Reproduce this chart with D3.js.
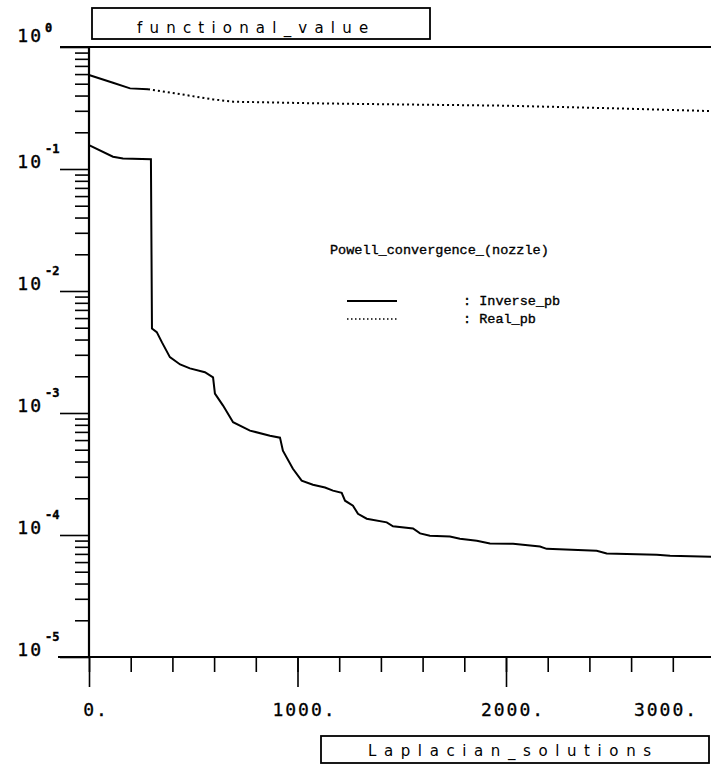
<!DOCTYPE html>
<html>
<head>
<meta charset="utf-8">
<script src="https://cdn.jsdelivr.net/npm/d3@7"></script>
<style>
  body { margin: 0; background: #fff; }
  svg { display: block; }
  .tick line { stroke: #000; stroke-width: 1.6; }
</style>
</head>
<body>
<div id="chart"></div>
<script>
// Laplacian solutions (x) vs functional value (y)
var inverseX = [0, 115, 163, 297, 302, 325, 350, 388, 437, 484, 556, 595, 604, 643, 691, 772, 868, 916, 930, 978,
  1020, 1074, 1132, 1170, 1212, 1228, 1266, 1290, 1332, 1428, 1458, 1554, 1588, 1635, 1731, 1779, 1860, 1923,
  2034, 2163, 2195, 2435, 2483, 2723, 2787, 2990];
var inverseY = [0.157, 0.126, 0.122, 0.12, 0.00493, 0.0046, 0.00379, 0.00287, 0.0025, 0.00232, 0.00216, 0.00196,
  0.00144, 0.00115, 8.4e-4, 7.17e-4, 6.52e-4, 6.28e-4, 4.91e-4, 3.49e-4, 2.79e-4, 2.58e-4, 2.45e-4, 2.31e-4,
  2.22e-4, 1.91e-4, 1.74e-4, 1.49e-4, 1.36e-4, 1.27e-4, 1.18e-4, 1.13e-4, 1.03e-4, 9.85e-5, 9.7e-5, 9.3e-5,
  8.96e-5, 8.51e-5, 8.47e-5, 8.05e-5, 7.7e-5, 7.42e-5, 7.05e-5, 6.88e-5, 6.75e-5, 6.62e-5];

var realX = [0, 115, 197, 283, 436, 595, 691, 1108, 1500, 1971, 2500, 2990];
var realY = [0.59, 0.509, 0.458, 0.45, 0.411, 0.372, 0.356, 0.345, 0.338, 0.331, 0.315, 0.298];
var realSolidUntil = 283;

var xMajor = [0, 1000, 2000, 3000];
var xMinor = d3.range(0, 3001, 200);
var xLabels = ["0.", "1000.", "2000.", "3000."];
var yMajor = [1, 1e-1, 1e-2, 1e-3, 1e-4, 1e-5];
var yExp = ["0", "-1", "-2", "-3", "-4", "-5"];

var width = 711, height = 770;

var x = d3.scaleLinear().domain([0, 3000]).range([89, 714.5]);
var y = d3.scaleLog().domain([1e-5, 1]).range([657, 47]);

var svg = d3.select("#chart").append("svg")
  .attr("width", width)
  .attr("height", height);

// minor log ticks 2..9 in every decade
var yMinor = [];
yMajor.slice(1).forEach(function (d) {
  d3.range(2, 10).forEach(function (k) { yMinor.push(d * k); });
});

svg.append("g")
  .attr("transform", "translate(89,0)")
  .call(d3.axisLeft(y).tickValues(yMinor).tickSize(14).tickFormat(""))
  .call(function (g) { g.select(".domain").remove(); });
svg.append("g")
  .attr("transform", "translate(89,0)")
  .call(d3.axisLeft(y).tickValues(yMajor).tickSize(29).tickFormat(""))
  .call(function (g) { g.select(".domain").remove(); });

svg.append("g")
  .attr("transform", "translate(0," + y(1e-5) + ")")
  .call(d3.axisBottom(x).tickValues(xMinor).tickSize(15).tickFormat(""))
  .call(function (g) { g.select(".domain").remove(); });
svg.append("g")
  .attr("transform", "translate(0," + y(1e-5) + ")")
  .call(d3.axisBottom(x).tickValues(xMajor).tickSize(30).tickFormat(""))
  .call(function (g) { g.select(".domain").remove(); });

// frame lines
svg.append("line")
  .attr("x1", 89).attr("x2", 89)
  .attr("y1", y(1)).attr("y2", y(1e-5))
  .attr("stroke", "#000").attr("stroke-width", 2.2);
svg.append("line")
  .attr("x1", 60).attr("x2", width)
  .attr("y1", y(1)).attr("y2", y(1))
  .attr("stroke", "#000").attr("stroke-width", 2);
svg.append("line")
  .attr("x1", 58).attr("x2", width)
  .attr("y1", y(1e-5)).attr("y2", y(1e-5))
  .attr("stroke", "#000").attr("stroke-width", 2);

// y labels 10^n
var yLab = svg.append("g")
  .attr("font-family", "DejaVu Sans Mono")
  .attr("fill", "#000")
  .attr("stroke", "#000")
  .attr("stroke-width", 0.4);
yMajor.forEach(function (d, i) {
  var base = y(d) - (i == 0 ? 5 : 1);
  yLab.append("text")
    .attr("x", 43)
    .attr("y", base)
    .attr("text-anchor", "end")
    .attr("font-size", 18)
    .attr("letter-spacing", 2)
    .text("10");
  yLab.append("text")
    .attr("x", 45)
    .attr("y", base - (i == 0 ? 10 : 15))
    .attr("font-size", 12)
    .attr("font-weight", "bold")
    .text(yExp[i]);
});

// x labels
svg.append("g")
  .selectAll("text")
  .data(xMajor)
  .enter()
  .append("text")
    .attr("x", function (d) { return Math.min(x(d) + 7, 666); })
    .attr("y", 716)
    .attr("text-anchor", "middle")
    .attr("font-family", "DejaVu Sans Mono")
    .attr("font-size", 18)
    .attr("letter-spacing", 2)
    .attr("stroke", "#000")
    .attr("stroke-width", 0.3)
    .text(function (d, i) { return xLabels[i]; });

// curves
var line = d3.line()
  .x(function (d) { return x(d[0]); })
  .y(function (d) { return y(d[1]); });

var inverseData = d3.zip(inverseX, inverseY);
var realData = d3.zip(realX, realY);

svg.append("path")
  .datum(inverseData)
  .attr("d", line)
  .attr("fill", "none")
  .attr("stroke", "#000")
  .attr("stroke-width", 2);

svg.append("path")
  .datum(realData.filter(function (d) { return d[0] <= realSolidUntil; }))
  .attr("d", line)
  .attr("fill", "none")
  .attr("stroke", "#000")
  .attr("stroke-width", 2);
svg.append("path")
  .datum(realData.filter(function (d) { return d[0] >= realSolidUntil; }))
  .attr("d", line)
  .attr("fill", "none")
  .attr("stroke", "#000")
  .attr("stroke-width", 2)
  .attr("stroke-dasharray", "2,3");

// legend
var leg = svg.append("g")
  .attr("font-family", "Liberation Mono")
  .attr("font-size", 13.5)
  .attr("fill", "#000")
  .attr("stroke", "#000")
  .attr("stroke-width", 0.35);
leg.append("text").attr("x", 330).attr("y", 254).text("Powell_convergence_(nozzle)");
leg.append("line").attr("x1", 347).attr("x2", 397).attr("y1", 301).attr("y2", 301)
  .attr("stroke", "#000").attr("stroke-width", 2);
leg.append("text").attr("x", 463).attr("y", 305).text(": Inverse_pb");
leg.append("line").attr("x1", 347).attr("x2", 397).attr("y1", 319).attr("y2", 319)
  .attr("stroke", "#000").attr("stroke-width", 1.5).attr("stroke-dasharray", "1.5,2.5");
leg.append("text").attr("x", 463).attr("y", 323).text(": Real_pb");

// boxed titles
svg.append("rect")
  .attr("x", 92).attr("y", 8).attr("width", 338).attr("height", 31)
  .attr("fill", "none").attr("stroke", "#000").attr("stroke-width", 1.8);
svg.append("text")
  .attr("x", 137).attr("y", 33)
  .attr("font-family", "DejaVu Sans")
  .attr("font-size", 15)
  .attr("letter-spacing", 7.2)
  .text("functional_value");

svg.append("rect")
  .attr("x", 321).attr("y", 736).attr("width", 388).attr("height", 27)
  .attr("fill", "none").attr("stroke", "#000").attr("stroke-width", 1.8);
svg.append("text")
  .attr("x", 368).attr("y", 756)
  .attr("font-family", "DejaVu Sans")
  .attr("font-size", 15)
  .attr("letter-spacing", 7.6)
  .text("Laplacian_solutions");
</script>
</body>
</html>
